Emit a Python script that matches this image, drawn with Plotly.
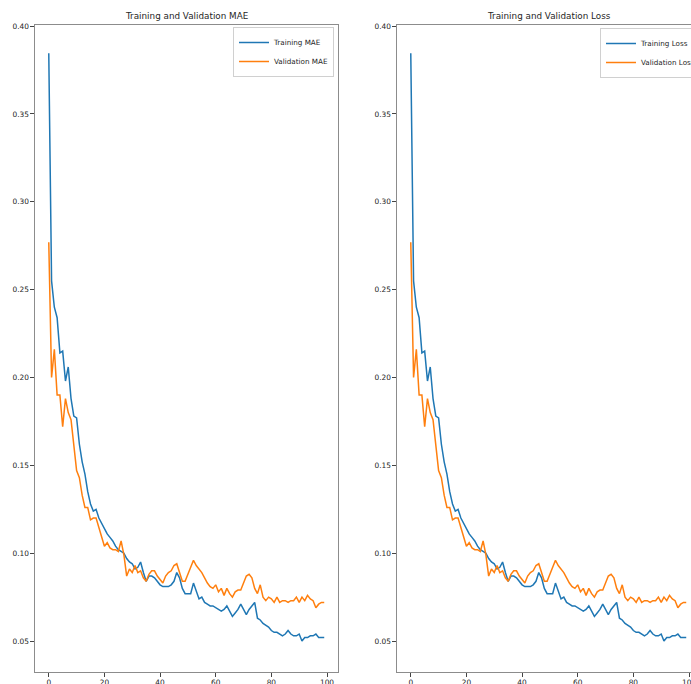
import plotly.graph_objects as go

epochs = list(range(100))

train_mae = [
    0.3845, 0.255, 0.240, 0.234, 0.214, 0.215, 0.198, 0.206, 0.188, 0.178,
    0.177, 0.162, 0.152, 0.145, 0.135, 0.128, 0.124, 0.125, 0.120, 0.117,
    0.114, 0.111, 0.109, 0.107, 0.104, 0.102, 0.101, 0.100, 0.097, 0.095,
    0.094, 0.091, 0.092, 0.095, 0.089, 0.084, 0.087, 0.087, 0.086, 0.084,
    0.082, 0.081, 0.081, 0.081, 0.082, 0.084, 0.089, 0.086, 0.080, 0.077,
    0.077, 0.077, 0.083, 0.079, 0.074, 0.075, 0.072, 0.071, 0.070, 0.070,
    0.069, 0.068, 0.067, 0.068, 0.070, 0.067, 0.064, 0.066, 0.068, 0.071,
    0.068, 0.065, 0.068, 0.070, 0.072, 0.063, 0.062, 0.060, 0.059, 0.058,
    0.056, 0.055, 0.055, 0.054, 0.053, 0.054, 0.056, 0.054, 0.053, 0.053,
    0.054, 0.050, 0.052, 0.052, 0.053, 0.053, 0.054, 0.052, 0.052, 0.052,
]

val_mae = [
    0.277, 0.200, 0.216, 0.190, 0.190, 0.172, 0.188, 0.180, 0.176, 0.161,
    0.147, 0.143, 0.133, 0.126, 0.126, 0.119, 0.120, 0.120, 0.115, 0.109,
    0.104, 0.106, 0.103, 0.102, 0.102, 0.101, 0.107, 0.099, 0.087, 0.091,
    0.089, 0.093, 0.089, 0.090, 0.086, 0.084, 0.088, 0.090, 0.090, 0.087,
    0.085, 0.083, 0.087, 0.089, 0.090, 0.093, 0.094, 0.089, 0.084, 0.084,
    0.088, 0.093, 0.096, 0.093, 0.091, 0.089, 0.086, 0.083, 0.081, 0.080,
    0.082, 0.078, 0.080, 0.076, 0.080, 0.077, 0.075, 0.078, 0.079, 0.079,
    0.083, 0.087, 0.088, 0.086, 0.080, 0.077, 0.082, 0.075, 0.073, 0.075,
    0.074, 0.072, 0.075, 0.072, 0.073, 0.073, 0.072, 0.073, 0.073, 0.075,
    0.072, 0.075, 0.073, 0.076, 0.074, 0.073, 0.069, 0.071, 0.072, 0.072,
]

# The loss curves in the picture are identical to the MAE curves
train_loss = list(train_mae)
val_loss = list(val_mae)

x_ticks = [0, 20, 40, 60, 80, 100]
y_ticks = [0.05, 0.10, 0.15, 0.20, 0.25, 0.30, 0.35, 0.40]
y_tick_text = ["0.05", "0.10", "0.15", "0.20", "0.25", "0.30", "0.35", "0.40"]

titles = ["Training and Validation MAE", "Training and Validation Loss"]

W, H = 691, 684
BLUE = "#1f77b4"
ORANGE = "#ff7f0e"
FONT = "DejaVu Sans"
TXT = "#262626"


def px(xw):
    return xw / W


def py(yw):
    return 1 - yw / H


fig = go.Figure()

fig.add_trace(go.Scatter(x=epochs, y=train_mae, mode="lines", name="Training MAE",
                         line=dict(color=BLUE, width=1.5), xaxis="x", yaxis="y", legend="legend"))
fig.add_trace(go.Scatter(x=epochs, y=val_mae, mode="lines", name="Validation MAE",
                         line=dict(color=ORANGE, width=1.5), xaxis="x", yaxis="y", legend="legend"))
fig.add_trace(go.Scatter(x=epochs, y=train_loss, mode="lines", name="Training Loss",
                         line=dict(color=BLUE, width=1.5), xaxis="x2", yaxis="y2", legend="legend2"))
fig.add_trace(go.Scatter(x=epochs, y=val_loss, mode="lines", name="Validation Loss",
                         line=dict(color=ORANGE, width=1.5), xaxis="x2", yaxis="y2", legend="legend2"))

px_per_epoch = 303 / 108.9
y_range = [0.0324, 0.4006]
ydom = [py(672), py(25)]

axis_common = dict(
    showgrid=False, zeroline=False, ticks="outside", ticklen=3.5, tickwidth=0.8,
    tickcolor="#444", linecolor="#8c8c8c", linewidth=1.2, showline=True,
    automargin=False, ticklabeloverflow="allow",
    tickfont=dict(family=FONT, size=7.4, color=TXT),
)

right_start = 397
right_px = W - right_start

fig.update_layout(
    template="none",
    width=W, height=H,
    margin=dict(l=0, r=0, t=0, b=0, autoexpand=False),
    paper_bgcolor="white", plot_bgcolor="white",
    xaxis=dict(domain=[px(35), px(338)], range=[-4.95, 103.95], tickvals=x_ticks,
               mirror=True, anchor="y", **axis_common),
    yaxis=dict(domain=ydom, range=y_range, tickvals=y_ticks, ticktext=y_tick_text,
               mirror=True, anchor="x", **axis_common),
    xaxis2=dict(domain=[px(right_start), 1.0], range=[-4.95, -4.95 + right_px / px_per_epoch],
                tickvals=x_ticks, mirror=True, anchor="y2", **axis_common),
    yaxis2=dict(domain=ydom, range=y_range, tickvals=y_ticks, ticktext=y_tick_text,
                mirror=False, anchor="x2", **axis_common),
    legend=dict(x=px(334), y=py(27), xanchor="right", yanchor="top",
                bgcolor="rgba(255,255,255,0.9)", bordercolor="#d0d0d0", borderwidth=1,
                font=dict(family=FONT, size=7.2, color=TXT), itemwidth=30,
                tracegroupgap=0),
    legend2=dict(x=px(600), y=py(28), xanchor="left", yanchor="top",
                 bgcolor="rgba(255,255,255,0.9)", bordercolor="#d0d0d0", borderwidth=1,
                 font=dict(family=FONT, size=7.2, color=TXT), itemwidth=30,
                 tracegroupgap=0),
    showlegend=True,
)

fig.add_annotation(text=titles[0], x=px(186.5), y=py(16), xref="paper", yref="paper",
                   showarrow=False, xanchor="center", yanchor="middle",
                   font=dict(family=FONT, size=8.8, color=TXT))
fig.add_annotation(text=titles[1], x=px(548.5), y=py(16), xref="paper", yref="paper",
                   showarrow=False, xanchor="center", yanchor="middle",
                   font=dict(family=FONT, size=8.8, color=TXT))

fig.write_html(
    "out.html",
    config={"displayModeBar": False},
    post_script="document.body.style.margin='0';document.body.style.overflow='hidden';",
)
